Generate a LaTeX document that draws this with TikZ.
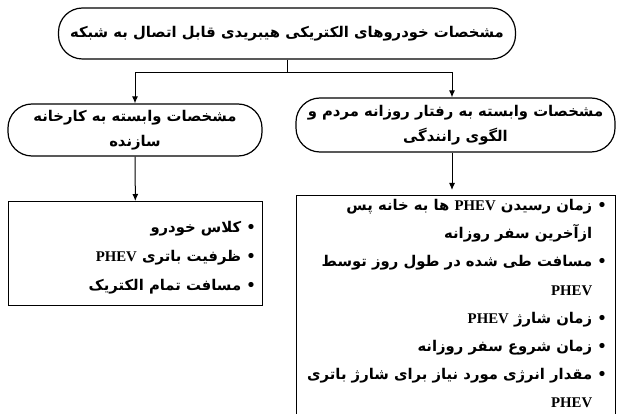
\documentclass[tikz,border=0pt]{standalone}
\usepackage{fontspec}
\usetikzlibrary{arrows.meta}
\TeXXeTstate=1
\newfontfamily\arabicfont[Script=Arabic]{DejaVu Sans}
\newfontfamily\latinfont{Liberation Serif}
\newcommand{\fa}[1]{\beginR #1\endR}
\newcommand{\phev}{\beginL{\latinfont\bfseries PHEV}\endL}
\newcommand{\blt}{\textbullet\ }
\newcommand{\nob}{\hphantom{\textbullet\ }}

\begin{document}
\begin{tikzpicture}[x=1pt, y=-1pt,
        rounded box/.style={draw, line width=1.2pt, rounded corners=24pt, align=center,
            font=\arabicfont\bfseries\fontsize{14.8}{25}\selectfont},
        list box/.style={draw, line width=1.1pt, anchor=north west},
        list text/.style={anchor=north east, align=right, inner sep=0pt,
            font=\arabicfont\bfseries\fontsize{14.8}{28.2}\selectfont},
        link/.style={draw, line width=1pt},
        arrow/.style={link, -{Latex[length=7pt, width=6pt]}},
    ]
	\useasboundingbox (0,0) rectangle (619,414);
	\node[rounded box, minimum width=457pt, minimum height=51pt] (top) at (287,33.5)
		{\fa{مشخصات خودروهای الکتریکی هیبریدی قابل اتصال به شبکه}};
	\node[rounded box, minimum width=254pt, minimum height=52pt] (maker) at (135,130)
		{\fa{مشخصات وابسته به کارخانه}\\\fa{سازنده}};
	\node[rounded box, minimum width=319pt, minimum height=54pt] (driver) at (455.5,125)
		{\fa{مشخصات وابسته به رفتار روزانه مردم و}\\\fa{الگوی رانندگی}};
	\node[list box, minimum width=254pt, minimum height=104pt] (makerlist) at (8,201) {};
	\node[list box, minimum width=319pt, minimum height=240pt] (driverlist) at (296,195) {};
	\node[list text, font=\arabicfont\bfseries\fontsize{14.8}{29}\selectfont] (makertext) at (256,221) {%
		\fa{\blt کلاس خودرو}\\
		\fa{\blt ظرفیت باتری \phev}\\
		\fa{\blt مسافت تمام الکتریک}};
	\node[list text] (drivertext) at (607,199) {%
		\fa{\blt زمان رسیدن \phev{} ها به خانه پس}\\
		\fa{\nob ازآخرین سفر روزانه}\\
		\fa{\blt مسافت طی شده در طول روز توسط}\\
		\fa{\nob\phev}\\
		\fa{\blt زمان شارژ \phev}\\
		\fa{\blt زمان شروع سفر روزانه}\\
		\fa{\blt مقدار انرژی مورد نیاز برای شارژ باتری}\\
		\fa{\nob\phev}};
	\coordinate (split) at (287,73);
	\draw[link] (top) -- (split);
	\draw[arrow] (split) -| (maker.north);
	\draw[arrow] (split) -| ([xshift=-3.5pt]driver.north);
	\draw[arrow] (maker) -- (makerlist);
	\draw[arrow] ([xshift=-3.5pt]driver.south) -- ([xshift=-3.5pt]driver.south |- 0,190);
\end{tikzpicture}
\end{document}
